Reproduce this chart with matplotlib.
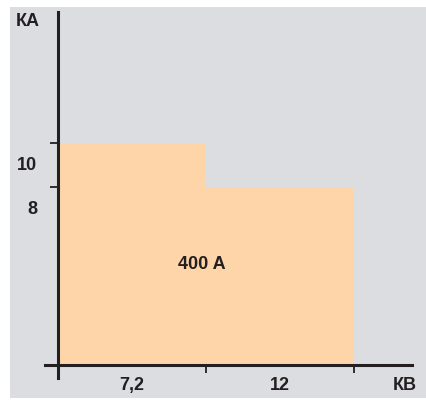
import matplotlib
matplotlib.use("Agg")
import matplotlib.pyplot as plt
from matplotlib.patches import Rectangle

# Rated short-time current by rated voltage
voltage_labels = ["7,2", "12"]
current_ka = [10, 8]
rating_label = "400 A"
y_unit = "КА"
x_unit = "КВ"

panel_color = "#dcdde0"
fill_color = "#fed5a9"
ink = "#231f20"

plt.rcParams["font.family"] = ["Liberation Sans", "DejaVu Sans"]

W, H, DPI = 427, 401, 100
fig = plt.figure(figsize=(W / DPI, H / DPI), dpi=DPI)
fig.patch.set_facecolor("white")
fig.patches.append(Rectangle((10 / W, 3 / H), 1 - 10 / W, 391 / H,
                             transform=fig.transFigure, facecolor=panel_color,
                             edgecolor="none", zorder=-5))

ax = fig.add_axes([0, 0, 1, 1], zorder=1)
ax.set_facecolor("none")
ax.set_xlim(-0.392, 2.493)
ax.set_ylim(-1.62, 16.44)

positions = list(range(len(current_ka)))
ax.bar(positions, current_ka, width=1.0, align="edge", color=fill_color,
       edgecolor="none", zorder=1)

for side in ("top", "right"):
    ax.spines[side].set_visible(False)
for side in ("left", "bottom"):
    ax.spines[side].set_position(("data", 0))
    ax.spines[side].set_linewidth(2.2)
    ax.spines[side].set_color(ink)
    ax.spines[side].set_zorder(3)
ax.spines["left"].set_bounds(-0.585, 15.9)
ax.spines["bottom"].set_bounds(-0.088, 2.39)

ax.set_yticks(current_ka)
ax.set_yticklabels([])
ax.set_xticks([p + 1 for p in positions])
ax.set_xticklabels([])
ax.tick_params(axis="both", direction="out", length=5.8, width=1.3,
               color=ink)

bold = dict(fontweight="bold", color=ink, fontsize=13)

# value labels sit just below their ticks
for v in current_ka:
    ax.annotate(str(v), xy=(0, v), xytext=(-15, -16), textcoords="offset points",
                ha="right", va="center", **bold)

for p, lab in zip(positions, voltage_labels):
    ax.annotate(lab, xy=(p + 0.5, 0), xytext=(0, -14.5), textcoords="offset points",
                ha="center", va="center", **bold)

ax.annotate(y_unit, xy=(0, 15.9), xytext=(-21.5, -7), textcoords="offset points",
            ha="center", va="center", **bold)
ax.annotate(x_unit, xy=(2.39, 0), xytext=(-5, -14.5), textcoords="offset points",
            ha="center", va="center", **bold)

ax.text(0.97, 4.55, rating_label, ha="center", va="center", **bold)

fig.savefig("out.png", dpi=DPI)
